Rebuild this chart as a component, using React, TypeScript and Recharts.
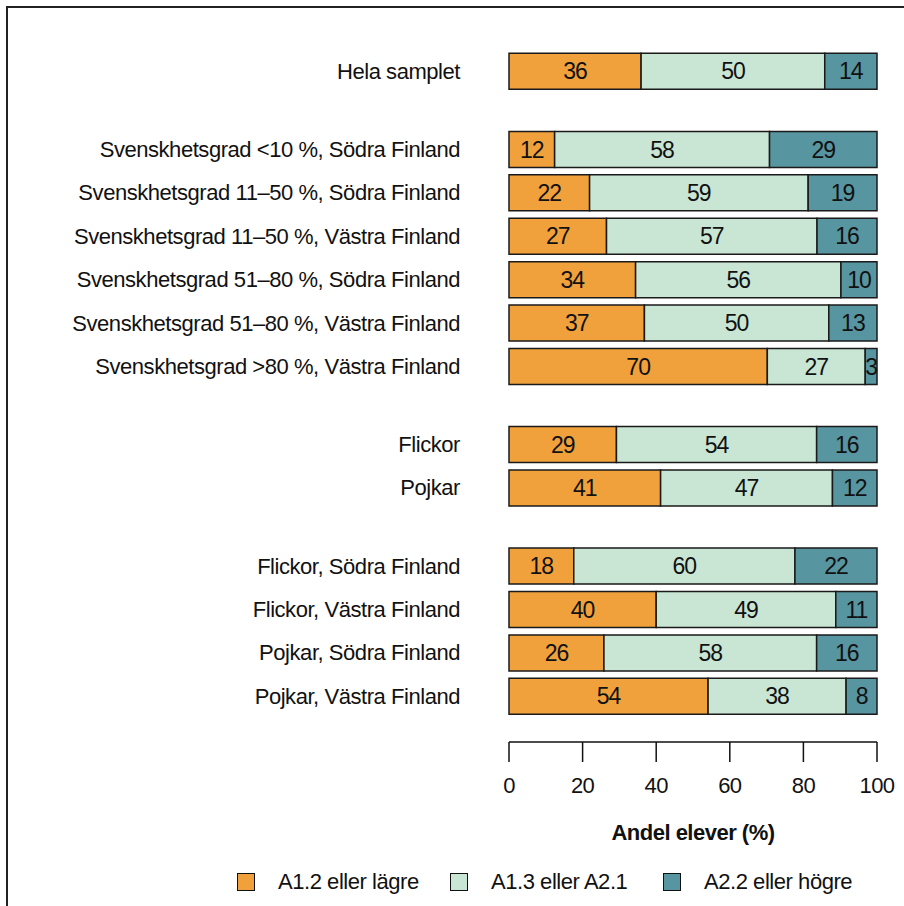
import { BarChart, Bar, XAxis, YAxis, LabelList } from 'recharts';

// kategorier, i grupper (tomrum mellan grupperna)
const categories = [
  'Hela samplet',
  'Svenskhetsgrad <10 %, Södra Finland',
  'Svenskhetsgrad 11–50 %, Södra Finland',
  'Svenskhetsgrad 11–50 %, Västra Finland',
  'Svenskhetsgrad 51–80 %, Södra Finland',
  'Svenskhetsgrad 51–80 %, Västra Finland',
  'Svenskhetsgrad >80 %, Västra Finland',
  'Flickor',
  'Pojkar',
  'Flickor, Södra Finland',
  'Flickor, Västra Finland',
  'Pojkar, Södra Finland',
  'Pojkar, Västra Finland',
];
const groupSizes = [1, 6, 2, 4];

const lowValues = [35.9, 12.4, 21.9, 26.5, 34.4, 36.8, 70.2, 29.2, 41.2, 17.6, 40.0, 25.8, 54.1];
const midValues = [49.9, 58.4, 59.4, 57.2, 55.8, 50.1, 26.6, 54.4, 46.7, 60.1, 48.8, 57.8, 37.5];
const highValues = [14.2, 29.2, 18.7, 16.3, 9.8, 13.1, 3.2, 16.4, 12.1, 22.3, 11.2, 16.4, 8.4];

const seriesNames = ['A1.2 eller lägre', 'A1.3 eller A2.1', 'A2.2 eller högre'];
const seriesColors = ['#F0A13C', '#C9E6D5', '#5795A0'];
const xTicks = [0, 20, 40, 60, 80, 100];

const FONT = '"Liberation Sans", Arial, Helvetica, sans-serif';
const GROUP_GAP = 0.8;

// radpositioner med extra luft mellan grupperna
const positions: number[] = [];
{
  let p = 0;
  groupSizes.forEach((n) => {
    for (let i = 0; i < n; i++) {
      positions.push(p);
      p += 1;
    }
    p += GROUP_GAP;
  });
}

const data = categories.map((name, i) => ({
  name,
  pos: positions[i],
  low: lowValues[i],
  mid: midValues[i],
  high: highValues[i],
}));

const labelOf = (v: number) => {
  const idx = positions.indexOf(v);
  return idx >= 0 ? categories[idx] : '';
};

const round = (v: unknown) => Math.round(Number(v));

export default function App() {
  const keys = ['low', 'mid', 'high'];
  return (
    <div style={{ position: 'absolute', left: 0, top: 0, width: 904, height: 906, background: '#fff', fontFamily: FONT }}>
      {/* ram */}
      <div
        style={{
          position: 'absolute',
          left: 6,
          top: 6,
          width: 904,
          height: 906,
          borderLeft: '2px solid #222',
          borderTop: '2px solid #222',
        }}
      />
      <div style={{ position: 'absolute', left: 0, top: 0 }}>
        <BarChart
          width={904}
          height={906}
          data={data}
          layout="vertical"
          margin={{ top: 27.6, right: 27, bottom: 54, left: 0 }}
        >
          <XAxis
            type="number"
            domain={[0, 100]}
            ticks={xTicks}
            interval={0}
            height={110}
            tickSize={20}
            tickMargin={15}
            axisLine={{ stroke: '#111', strokeWidth: 1.5 }}
            tickLine={{ stroke: '#111', strokeWidth: 1.5 }}
            tick={{ fill: '#111', fontSize: 22, fontFamily: FONT, letterSpacing: -0.6 }}
            label={{
              value: 'Andel elever (%)',
              position: 'insideBottom',
              offset: 12,
              style: { fill: '#111', fontSize: 22, fontWeight: 700, fontFamily: FONT, letterSpacing: -0.5 },
            }}
          />
          <YAxis
            type="number"
            dataKey="pos"
            domain={[-1, 15.46]}
            ticks={positions}
            interval={0}
            width={509}
            axisLine={false}
            tickLine={false}
            tickSize={0}
            tickMargin={49}
            tickFormatter={labelOf}
            tick={{ fill: '#111', fontSize: 22, fontFamily: FONT, letterSpacing: -0.45 }}
          />
          {keys.map((k, i) => (
            <Bar
              key={k}
              dataKey={k}
              stackId="a"
              fill={seriesColors[i]}
              stroke="#1a1a1a"
              strokeWidth={1.5}
              barSize={36}
              isAnimationActive={false}
            >
              <LabelList
                dataKey={k}
                position="center"
                formatter={round}
                style={{ fill: '#111', fontSize: 23, fontFamily: FONT, letterSpacing: -1 }}
              />
            </Bar>
          ))}
        </BarChart>
      </div>
      {/* förklaring */}
      {seriesNames.map((name, i) => (
        <div
          key={name}
          style={{
            position: 'absolute',
            left: 237 + i * 213,
            top: 870,
            height: 24,
            display: 'flex',
            alignItems: 'center',
            fontSize: 22,
            letterSpacing: -0.45,
            color: '#111',
            whiteSpace: 'nowrap',
          }}
        >
          <span
            style={{
              display: 'inline-block',
              width: 16,
              height: 16,
              background: seriesColors[i],
              border: '1.5px solid #111',
              marginRight: 23,
            }}
          />
          <span>{name}</span>
        </div>
      ))}
    </div>
  );
}
